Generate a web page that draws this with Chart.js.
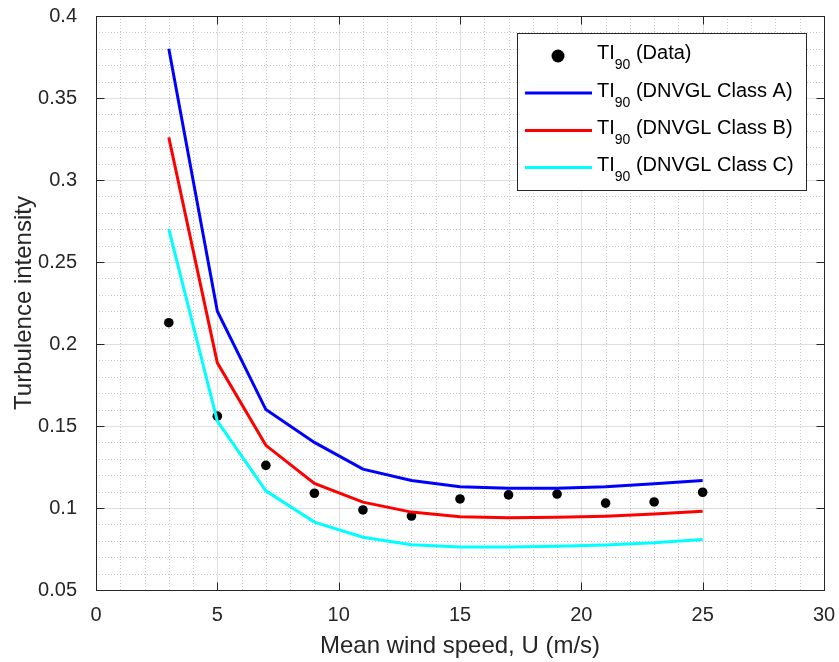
<!DOCTYPE html>
<html lang="en">
<head>
    <meta charset="UTF-8">
    <title>Turbulence intensity vs mean wind speed</title>
    <script src="https://cdn.jsdelivr.net/npm/chart.js"></script>
    <style>
        html, body { margin: 0; padding: 0; background: #fff; }
        #wrap { width: 839px; height: 662px; }
    </style>
</head>
<body>
    <div id="wrap"><canvas id="tiChart" width="839" height="662"></canvas></div>

    <script>
        // Values
        const windSpeed = [3, 5, 7, 9, 11, 13, 15, 17, 19, 21, 23, 25];
        const tiData   = [0.213, 0.156, 0.126, 0.109, 0.0988, 0.0951, 0.1055, 0.108, 0.1085, 0.103, 0.1037, 0.1096];
        const tiClassA = [0.380, 0.220, 0.160, 0.140, 0.1237, 0.1168, 0.1130, 0.1120, 0.1120, 0.1130, 0.1148, 0.1168];
        const tiClassB = [0.326, 0.1885, 0.1382, 0.1150, 0.1036, 0.0975, 0.0946, 0.0940, 0.0943, 0.0950, 0.0963, 0.0980];
        const tiClassC = [0.270, 0.1530, 0.1105, 0.0914, 0.0822, 0.0776, 0.0762, 0.0762, 0.0767, 0.0775, 0.0788, 0.0808];
        const seriesNames = ['(Data)', '(DNVGL Class A)', '(DNVGL Class B)', '(DNVGL Class C)'];
        const seriesColors = ['#000000', '#0000ff', '#ff0000', '#00ffff'];

        const axisColor = '#262626';
        const fontFamily = '"Liberation Sans", Arial, Helvetica, sans-serif';

        function toPoints(ys) {
            return windSpeed.map((x, i) => ({ x: x, y: ys[i] }));
        }

        function isMajor(v, step) {
            return Math.abs(v / step - Math.round(v / step)) < 1e-6;
        }

        // MATLAB-like grid, box and inward ticks
        const gridAndBox = {
            id: 'gridAndBox',
            beforeDatasetsDraw(chart) {
                const { ctx, chartArea: a, scales: { x, y } } = chart;
                ctx.save();
                ctx.lineWidth = 1;
                const line = (x1, y1, x2, y2) => {
                    ctx.beginPath(); ctx.moveTo(x1, y1); ctx.lineTo(x2, y2); ctx.stroke();
                };
                // minor (dotted)
                ctx.strokeStyle = 'rgba(38,38,38,0.26)';
                ctx.setLineDash([1, 2]);
                x.ticks.forEach(t => {
                    if (isMajor(t.value, 5)) return;
                    const px = Math.round(x.getPixelForValue(t.value)) + 0.5;
                    line(px, a.top, px, a.bottom);
                });
                y.ticks.forEach(t => {
                    if (isMajor(t.value, 0.05)) return;
                    const py = Math.round(y.getPixelForValue(t.value)) + 0.5;
                    line(a.left, py, a.right, py);
                });
                // major (solid)
                ctx.setLineDash([]);
                ctx.strokeStyle = 'rgba(38,38,38,0.15)';
                x.ticks.forEach(t => {
                    if (!isMajor(t.value, 5)) return;
                    const px = Math.round(x.getPixelForValue(t.value)) + 0.5;
                    line(px, a.top, px, a.bottom);
                });
                y.ticks.forEach(t => {
                    if (!isMajor(t.value, 0.05)) return;
                    const py = Math.round(y.getPixelForValue(t.value)) + 0.5;
                    line(a.left, py, a.right, py);
                });
                ctx.restore();
            },
            afterDatasetsDraw(chart) {
                const { ctx, chartArea: a, scales: { x, y } } = chart;
                ctx.save();
                ctx.strokeStyle = axisColor;
                ctx.lineWidth = 1;
                const line = (x1, y1, x2, y2) => {
                    ctx.beginPath(); ctx.moveTo(x1, y1); ctx.lineTo(x2, y2); ctx.stroke();
                };
                const L = Math.round(a.left) + 0.5, R = Math.round(a.right) + 0.5;
                const T = Math.round(a.top) + 0.5, B = Math.round(a.bottom) + 0.5;
                ctx.strokeRect(L, T, R - L, B - T);
                const tl = 8;
                x.ticks.forEach(t => {
                    if (!isMajor(t.value, 5)) return;
                    const px = Math.round(x.getPixelForValue(t.value)) + 0.5;
                    line(px, B, px, B - tl);
                    line(px, T, px, T + tl);
                });
                y.ticks.forEach(t => {
                    if (!isMajor(t.value, 0.05)) return;
                    const py = Math.round(y.getPixelForValue(t.value)) + 0.5;
                    line(L, py, L + tl, py);
                    line(R, py, R - tl, py);
                });
                ctx.restore();
            }
        };

        // Legend with subscripted "TI90"
        const tiLegend = {
            id: 'tiLegend',
            afterDraw(chart) {
                const { ctx } = chart;
                const box = { x: 517.5, y: 33.5, w: 289, h: 157 };
                ctx.save();
                ctx.fillStyle = '#ffffff';
                ctx.fillRect(box.x, box.y, box.w, box.h);
                ctx.strokeStyle = axisColor;
                ctx.lineWidth = 1;
                ctx.strokeRect(box.x, box.y, box.w, box.h);

                const rowBase = [59, 96.5, 134, 171];
                chart.data.datasets.forEach((ds, i) => {
                    const base = rowBase[i];
                    const my = base - 3.5;
                    if (i === 0) {
                        ctx.fillStyle = ds.pointBackgroundColor;
                        ctx.beginPath();
                        ctx.arc(558, base - 3, 6.5, 0, Math.PI * 2);
                        ctx.fill();
                    } else {
                        ctx.strokeStyle = ds.borderColor;
                        ctx.lineWidth = 3;
                        ctx.beginPath();
                        ctx.moveTo(525, my);
                        ctx.lineTo(592, my);
                        ctx.stroke();
                    }
                    ctx.fillStyle = '#000000';
                    ctx.textBaseline = 'alphabetic';
                    ctx.textAlign = 'left';
                    let tx = 597;
                    ctx.font = '20px ' + fontFamily;
                    ctx.fillText('TI', tx, base);
                    tx += ctx.measureText('TI').width;
                    ctx.font = '14px ' + fontFamily;
                    ctx.fillText('90', tx, base + 10);
                    tx += ctx.measureText('90').width;
                    ctx.font = '20px ' + fontFamily;
                    ctx.fillText(' ' + seriesNames[i], tx, base);
                });
                ctx.restore();
            }
        };

        const lineDataset = (ys, idx, order) => ({
            label: seriesNames[idx],
            data: toPoints(ys),
            showLine: true,
            borderColor: seriesColors[idx],
            backgroundColor: seriesColors[idx],
            borderWidth: 3,
            pointRadius: 0,
            tension: 0,
            order: order
        });

        new Chart(document.getElementById('tiChart').getContext('2d'), {
            type: 'scatter',
            data: {
                datasets: [
                    {
                        label: seriesNames[0],
                        data: toPoints(tiData),
                        pointRadius: 4.8,
                        pointBackgroundColor: seriesColors[0],
                        pointBorderWidth: 0,
                        showLine: false,
                        order: 4
                    },
                    lineDataset(tiClassA, 1, 3),
                    lineDataset(tiClassB, 2, 2),
                    lineDataset(tiClassC, 3, 1)
                ]
            },
            options: {
                responsive: false,
                animation: false,
                devicePixelRatio: 1,
                layout: { padding: { top: 16, right: 15, left: 0, bottom: 0 } },
                plugins: {
                    legend: { display: false },
                    tooltip: { enabled: false }
                },
                scales: {
                    x: {
                        type: 'linear',
                        min: 0,
                        max: 30,
                        afterFit(scale) {
                            scale.height = 72;
                            scale.paddingLeft = 0;
                            scale.paddingRight = 0;
                        },
                        grid: { display: false },
                        border: { display: false },
                        ticks: {
                            stepSize: 1,
                            autoSkip: false,
                            maxRotation: 0,
                            padding: 5,
                            color: axisColor,
                            font: { family: fontFamily, size: 20 },
                            callback: v => isMajor(v, 5) ? String(Math.round(v)) : ''
                        },
                        title: {
                            display: true,
                            text: 'Mean wind speed, U (m/s)',
                            color: axisColor,
                            font: { family: fontFamily, size: 24 },
                            padding: { top: 0, bottom: 1 }
                        }
                    },
                    y: {
                        type: 'linear',
                        min: 0.05,
                        max: 0.4,
                        afterFit(scale) {
                            scale.width = 96;
                            scale.paddingTop = 0;
                            scale.paddingBottom = 0;
                        },
                        grid: { display: false },
                        border: { display: false },
                        ticks: {
                            stepSize: 0.01,
                            autoSkip: false,
                            padding: 11,
                            color: axisColor,
                            font: { family: fontFamily, size: 20 },
                            callback: v => isMajor(v, 0.05) ? String(+v.toFixed(2)) : ''
                        },
                        title: {
                            display: true,
                            text: 'Turbulence intensity',
                            color: axisColor,
                            font: { family: fontFamily, size: 24 },
                            padding: { top: 10, bottom: 0 }
                        }
                    }
                }
            },
            plugins: [gridAndBox, tiLegend]
        });
    </script>
</body>
</html>
